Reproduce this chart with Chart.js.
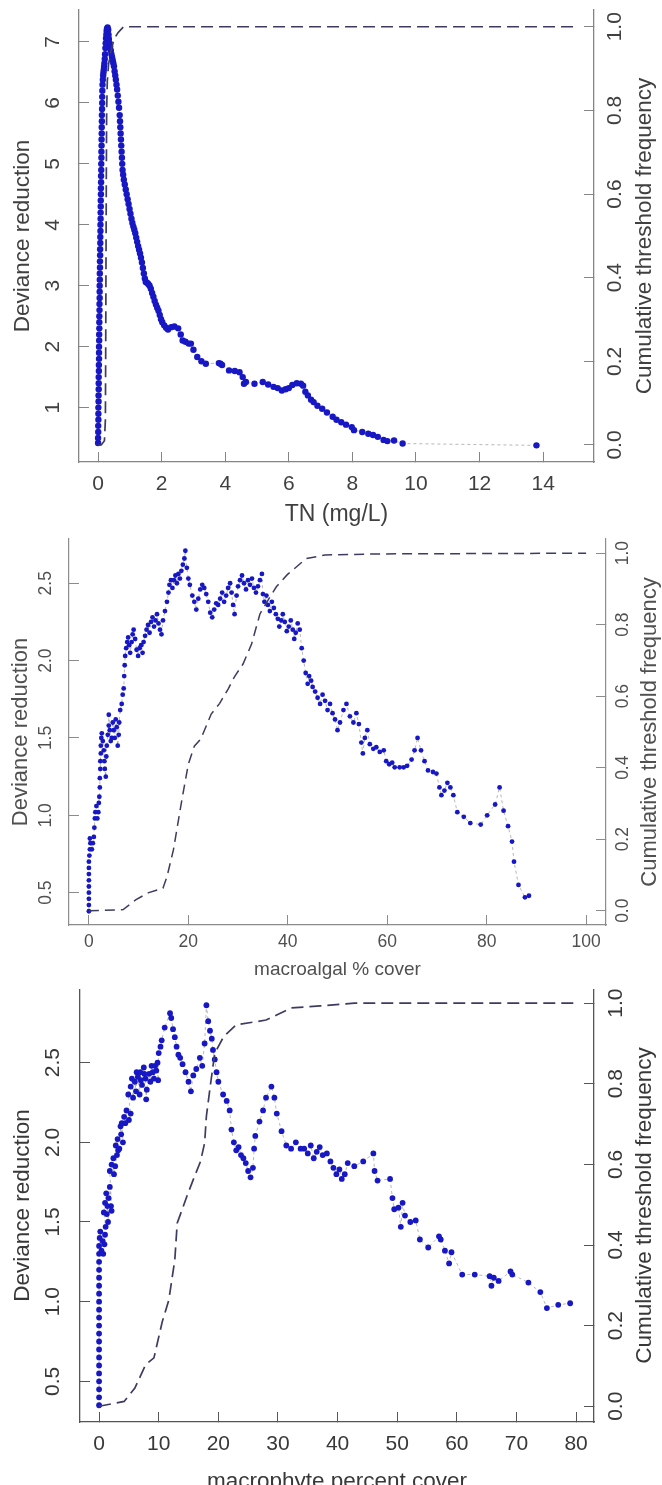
<!DOCTYPE html>
<html><head><meta charset="utf-8">
<script src="https://cdn.jsdelivr.net/npm/chart.js@4.4.1/dist/chart.umd.min.js"></script>
<style>
html,body{margin:0;padding:0;background:#fff;}
body{width:662px;height:1485px;position:relative;overflow:hidden;}
canvas{position:absolute;left:0;}
</style></head><body>
<canvas id="c1" width="662" height="530" style="top:0px"></canvas>
<canvas id="c2" width="662" height="455" style="top:530px"></canvas>
<canvas id="c3" width="662" height="496" style="top:989px"></canvas>
<script>
// ---------- Panel 1: TN (mg/L) ----------
const tnX = [0,0,0.005,0.005,0.01,0.01,0.01,0.015,0.015,0.02,0.02,0.02,0.025,0.025,0.03,0.03,0.03,0.035,0.035,0.04,0.04,0.04,0.045,0.045,0.05,0.05,0.05,0.055,0.055,0.06,0.06,0.065,0.065,0.07,0.07,0.075,0.075,0.08,0.08,0.085,0.085,0.09,0.09,0.095,0.095,0.1,0.1,0.105,0.105,0.11,0.11,0.115,0.115,0.12,0.12,0.125,0.13,0.13,0.135,0.14,0.15,0.16,0.17,0.18,0.19,0.2,0.21,0.22,0.23,0.24,0.25,0.26,0.27,0.28,0.3,0.32,0.33,0.34,0.36,0.38,0.4,0.42,0.44,0.46,0.48,0.5,0.52,0.54,0.56,0.58,0.6,0.62,0.64,0.66,0.68,0.69,0.7,0.71,0.72,0.73,0.74,0.75,0.76,0.77,0.79,0.81,0.84,0.87,0.9,0.93,0.96,0.99,1.02,1.05,1.08,1.11,1.14,1.17,1.2,1.23,1.26,1.29,1.32,1.35,1.38,1.41,1.44,1.47,1.5,1.54,1.58,1.62,1.66,1.7,1.74,1.78,1.82,1.86,1.9,1.94,1.98,2.02,2.08,2.14,2.2,2.3,2.4,2.52,2.6,2.66,2.75,2.85,2.92,3.0,3.12,3.25,3.39,3.8,3.85,3.9,4.12,4.3,4.45,4.55,4.59,4.65,4.92,5.18,5.35,5.52,5.65,5.78,5.9,6.0,6.11,6.25,6.38,6.45,6.52,6.6,6.7,6.78,6.9,7.05,7.2,7.38,7.5,7.65,7.8,7.98,8.05,8.31,8.5,8.65,8.8,8.98,9.1,9.31,9.58,13.79];
const tnDev = [0.42,0.5,0.6,0.7,0.8,0.9,1.0,1.1,1.2,1.3,1.4,1.5,1.6,1.7,1.8,1.9,2.0,2.1,2.2,2.3,2.4,2.5,2.6,2.7,2.8,2.9,3.0,3.1,3.2,3.3,3.4,3.5,3.6,3.7,3.8,3.9,4.0,4.1,4.2,4.3,4.4,4.5,4.6,4.7,4.8,4.9,5.0,5.1,5.2,5.3,5.4,5.5,5.6,5.7,5.8,5.9,6.0,6.1,6.2,6.3,6.38,6.45,6.5,6.55,6.6,6.65,6.72,6.8,6.9,6.98,7.06,7.12,7.18,7.22,7.24,7.2,7.12,7.05,6.98,6.92,6.86,6.8,6.75,6.7,6.65,6.6,6.52,6.45,6.38,6.3,6.22,6.12,6.02,5.92,5.8,5.7,5.6,5.5,5.4,5.3,5.2,5.1,5.0,4.9,4.82,4.74,4.66,4.58,4.5,4.42,4.34,4.26,4.18,4.1,4.03,3.97,3.92,3.86,3.79,3.72,3.65,3.59,3.53,3.46,3.38,3.29,3.2,3.12,3.06,3.05,3.03,3.0,2.95,2.88,2.82,2.75,2.69,2.64,2.59,2.52,2.45,2.4,2.35,2.31,2.28,2.32,2.33,2.3,2.2,2.1,2.08,2.05,2.05,1.95,1.83,1.76,1.72,1.73,1.72,1.7,1.61,1.6,1.58,1.5,1.39,1.42,1.39,1.42,1.38,1.34,1.32,1.28,1.3,1.32,1.37,1.4,1.39,1.36,1.26,1.2,1.13,1.09,1.03,0.98,0.92,0.85,0.8,0.76,0.72,0.68,0.63,0.6,0.57,0.55,0.52,0.47,0.45,0.46,0.41,0.38];
const tnCumX = [0,0.1,0.2,0.23,0.24,0.25,0.26,0.27,0.29,0.33,0.4,0.5,0.62,0.8,15];
const tnCum  = [0,0,0.01,0.06,0.22,0.45,0.65,0.8,0.87,0.91,0.94,0.97,0.985,1.0,1.0];
const tnXTicks = [0,2,4,6,8,10,12,14];
const tnYTicks = [1,2,3,4,5,6,7];

// ---------- Panel 2: macroalgal % cover ----------
const algX = [0,0,0,0,0,0,0,0,0,0.1,0.2,0.3,0.2,0.6,0.8,1.0,1.1,1.2,1.3,1.5,1.7,1.9,2.0,2.1,2.2,2.2,2.3,2.3,2.4,2.4,2.5,2.6,2.8,3.0,3.1,3.2,3.4,3.5,3.6,3.8,4.0,4.0,4.2,4.4,4.6,4.8,5.0,5.2,5.4,5.6,5.8,6.0,6.1,6.3,6.6,6.8,7.0,7.1,7.2,7.3,7.5,7.7,7.9,8.1,8.3,8.6,8.8,9.0,9.3,9.6,9.9,10.2,10.5,10.8,11.0,11.3,11.6,11.9,12.2,12.5,12.8,13.1,13.4,13.7,14.0,14.3,14.6,14.9,15.3,15.7,16.0,16.2,16.5,16.8,17.1,17.4,17.7,18.0,18.3,18.6,18.9,19.2,19.4,19.7,20.0,20.3,20.8,21.2,21.6,22.0,22.4,22.8,23.2,23.6,24.0,24.4,24.8,25.2,25.6,26.0,26.4,26.8,27.2,27.6,28.0,28.4,28.7,29.0,29.3,29.7,30.0,30.4,30.8,31.2,31.6,32.0,32.4,32.8,33.2,33.6,34.0,34.4,34.8,35.0,35.3,35.7,36.0,36.4,36.8,37.2,37.6,38.0,38.3,38.7,39.0,39.4,39.8,40.2,40.6,41.0,41.3,41.6,42.0,42.4,42.8,43.2,43.6,44.0,44.3,44.7,45.0,45.5,46.0,46.5,47.0,47.5,48.0,48.5,49.0,49.5,50.0,50.5,51.2,51.8,52.5,53.2,53.8,54.3,54.8,55.1,55.5,56.0,56.5,57.2,57.8,58.5,59.3,59.8,60.4,61.0,61.5,62.5,63.3,64.0,64.9,65.5,66.1,66.8,67.5,68.2,69.2,69.9,70.5,70.9,71.5,72.1,72.7,73.3,74.1,75.4,76.7,78.8,80.1,81.7,82.6,83.4,84.3,85.1,85.5,86.4,87.7,88.5];
const algDev = [0.38,0.42,0.46,0.5,0.54,0.58,0.62,0.66,0.7,0.74,0.78,0.82,0.85,0.78,0.82,0.86,0.92,0.98,1.02,1.06,0.98,1.02,1.08,1.12,1.18,1.24,1.3,1.35,1.4,1.45,1.5,1.53,1.48,1.42,1.35,1.3,1.25,1.38,1.45,1.52,1.58,1.65,1.55,1.48,1.5,1.6,1.55,1.5,1.62,1.57,1.45,1.52,1.6,1.68,1.72,1.78,1.82,1.9,1.97,2.03,2.08,2.12,2.15,2.1,2.05,2.12,2.17,2.2,2.14,2.07,2.03,2.08,2.1,2.05,2.12,2.16,2.2,2.23,2.18,2.25,2.28,2.22,2.26,2.3,2.24,2.2,2.17,2.26,2.32,2.38,2.44,2.49,2.52,2.47,2.52,2.55,2.5,2.56,2.53,2.58,2.62,2.66,2.71,2.6,2.53,2.49,2.42,2.38,2.33,2.4,2.46,2.49,2.47,2.43,2.38,2.31,2.28,2.33,2.37,2.36,2.4,2.44,2.38,2.42,2.47,2.5,2.44,2.36,2.3,2.42,2.48,2.52,2.55,2.5,2.46,2.52,2.49,2.53,2.47,2.44,2.48,2.52,2.56,2.43,2.38,2.42,2.36,2.32,2.38,2.34,2.3,2.27,2.22,2.26,2.3,2.25,2.19,2.22,2.26,2.2,2.14,2.18,2.24,2.2,2.08,2.0,1.92,1.85,1.9,1.87,1.83,1.8,1.76,1.72,1.78,1.74,1.68,1.72,1.66,1.62,1.55,1.6,1.68,1.72,1.64,1.6,1.66,1.59,1.47,1.4,1.5,1.55,1.46,1.43,1.44,1.41,1.42,1.35,1.33,1.34,1.31,1.31,1.31,1.32,1.36,1.42,1.5,1.42,1.35,1.29,1.28,1.27,1.18,1.13,1.16,1.21,1.18,1.13,1.02,0.99,0.95,0.94,1.0,1.07,1.18,1.03,0.93,0.83,0.7,0.55,0.47,0.48];
const algCumX = [0,6.9,9.4,11.9,14.9,15.7,17.0,18.7,20,21.2,22.5,24.6,26.3,28,29.3,31,32.7,34.4,36.1,37.7,39.9,41.6,43.7,47.5,58.5,100];
const algCum  = [0,0.003,0.03,0.05,0.063,0.095,0.17,0.31,0.41,0.46,0.48,0.55,0.58,0.62,0.655,0.69,0.745,0.83,0.87,0.906,0.94,0.96,0.985,0.995,0.998,1.0];
const algXTicks = [0,20,40,60,80,100];
const algYTicks = [0.5,1.0,1.5,2.0,2.5];

// ---------- Panel 3: macrophyte percent cover ----------
const macX = [0,0,0,0,0,0,0,0,0,0,0,0,0,0,0,0,0,0,0,0,0,0.1,0.2,0.4,0.6,0.7,0.9,1.0,1.1,0.8,1.0,1.2,1.3,1.4,1.5,1.6,1.8,2.0,2.1,1.8,2.1,2.4,2.5,2.7,3.0,2.8,3.1,3.2,3.4,3.6,3.7,4.0,3.8,4.2,4.4,4.6,5.0,5.3,4.9,5.3,5.5,5.7,6.0,6.2,6.3,6.5,6.8,6.9,7.0,7.2,7.5,7.6,7.8,7.9,8.0,8.4,8.6,8.8,9.0,9.2,9.4,9.6,9.8,9.9,10.0,10.3,10.5,11.0,11.9,12.1,12.4,12.7,13.0,13.3,13.6,14.0,14.5,15.0,15.4,15.8,16.3,16.9,17.3,17.7,18.0,18.3,18.6,18.9,19.1,19.4,19.7,20.0,20.8,21.4,21.9,22.2,22.6,23.0,23.4,23.8,24.2,24.6,25.0,25.4,25.8,26.0,26.2,26.9,27.5,28.0,28.9,29.4,29.8,30.6,31.4,32.2,33.0,33.8,34.4,35.0,35.5,36.0,36.5,37.0,37.5,38.2,38.8,39.3,39.8,40.3,40.7,41.2,41.7,42.8,44.3,46.0,46.2,46.7,48.8,49.2,49.5,50.2,50.6,50.9,51.3,52.2,53.1,53.8,55.2,57.0,57.3,58.0,58.7,59.1,60.9,63.0,65.5,65.8,66.2,67.0,69.0,69.3,72.0,74.0,75.1,77.0,79.0];
const macDev = [0.35,0.4,0.45,0.5,0.55,0.6,0.65,0.7,0.75,0.8,0.85,0.9,0.95,1.0,1.05,1.1,1.15,1.2,1.25,1.3,1.35,1.4,1.44,1.32,1.38,1.3,1.36,1.42,1.47,1.56,1.62,1.68,1.55,1.6,1.5,1.65,1.72,1.6,1.57,1.82,1.86,1.9,1.8,1.85,1.92,1.98,2.02,1.95,1.96,2.1,2.05,2.0,2.12,2.16,2.12,2.2,2.14,2.18,2.3,2.35,2.4,2.28,2.38,2.32,2.44,2.41,2.3,2.44,2.39,2.36,2.47,2.43,2.4,2.27,2.33,2.43,2.38,2.48,2.44,2.4,2.48,2.45,2.5,2.39,2.56,2.6,2.64,2.72,2.81,2.78,2.71,2.66,2.6,2.55,2.53,2.49,2.44,2.38,2.32,2.42,2.46,2.53,2.48,2.62,2.86,2.76,2.7,2.65,2.58,2.52,2.44,2.38,2.3,2.26,2.2,2.08,2.0,1.95,1.97,1.92,1.9,1.87,1.82,1.78,1.84,1.96,2.04,2.13,2.2,2.28,2.35,2.28,2.18,2.07,1.98,1.96,2.0,1.96,1.96,1.93,1.98,1.9,1.94,1.97,1.92,1.93,1.88,1.84,1.8,1.83,1.77,1.8,1.87,1.85,1.88,1.93,1.82,1.76,1.77,1.65,1.58,1.59,1.47,1.62,1.54,1.5,1.51,1.39,1.34,1.41,1.39,1.32,1.24,1.31,1.17,1.17,1.16,1.1,1.15,1.13,1.19,1.17,1.12,1.06,0.96,0.98,0.99];
const macCumX = [0,4.2,6,7.8,9.2,10.6,11.7,12.7,13.1,14.1,14.8,15.9,17,17.7,18,18.7,19.4,20.9,23,28,29.7,32.2,37.1,41.4,42.8,79.6];
const macCum  = [0,0.012,0.045,0.103,0.12,0.21,0.264,0.363,0.454,0.495,0.524,0.566,0.607,0.653,0.72,0.80,0.876,0.917,0.946,0.958,0.97,0.988,0.993,0.998,1.0,1.0];
const macXTicks = [0,10,20,30,40,50,60,70,80];
const macYTicks = [0.5,1.0,1.5,2.0,2.5];

const cumTicks = [0,0.2,0.4,0.6,0.8,1.0];

const FONT = '"Liberation Sans", Arial, sans-serif';
const PT = '#1717c4';

const rightTitle = {
  id: 'rightTitle',
  afterDraw(chart, args, o) {
    const s = chart.scales.y2, ctx = chart.ctx;
    ctx.save();
    ctx.translate(o.x, (s.top + s.bottom) / 2);
    ctx.rotate(-Math.PI / 2);
    ctx.font = o.size + 'px ' + FONT;
    ctx.fillStyle = o.color;
    ctx.textAlign = 'center';
    ctx.textBaseline = 'middle';
    ctx.fillText(o.text, 0, 0);
    ctx.restore();
  }
};

function zeroPad(s) { s.paddingTop = 0; s.paddingBottom = 0; s.paddingLeft = 0; s.paddingRight = 0; }
function pts(xs, ys) { return xs.map((x, i) => ({x: x, y: ys[i]})); }

function panel(id, o) {
  const font = {family: FONT, size: o.fs, lineHeight: 1.2};
  const yTitleFont = {family: FONT, size: o.ytFs, lineHeight: 1.2};
  const xTitleFont = {family: FONT, size: o.xtFs, lineHeight: 1.2};
  const grid = {display: true, drawOnChartArea: false, drawTicks: true, tickLength: -10, color: o.axis, lineWidth: 1};
  const border = {display: true, color: o.axis, width: o.bw};
  new Chart(document.getElementById(id), {
    type: 'scatter',
    data: {datasets: [
      {data: pts(o.cumX, o.cum), yAxisID: 'y2', showLine: true, borderColor: o.cumColor, borderWidth: o.cumW,
       borderDash: o.dash, pointRadius: 0, fill: false, tension: 0},
      {data: pts(o.devX, o.dev), yAxisID: 'y', showLine: true, borderColor: 'rgba(90,90,90,0.55)', borderWidth: 0.8,
       borderDash: [3, 3], pointRadius: o.pr, pointBackgroundColor: PT, pointBorderColor: PT, pointBorderWidth: 0, fill: false, tension: 0}
    ]},
    options: {
      responsive: false, animation: false, devicePixelRatio: 1, events: [],
      layout: {padding: {top: o.T, left: 0, right: 0, bottom: 0}, autoPadding: false},
      plugins: {legend: {display: false}, tooltip: {enabled: false},
        rightTitle: {x: o.rtX, size: o.ytFs, color: o.text, text: 'Cumulative threshold frequency'}},
      scales: {
        x: {type: 'linear', position: 'bottom', min: o.xMin, max: o.xMax,
          afterBuildTicks: s => { s.ticks = o.xTicks.map(v => ({value: v})); },
          afterFit: s => { s.height = o.xH; zeroPad(s); },
          grid: grid, border: border,
          ticks: {font: font, color: o.text, padding: o.xPad, minRotation: 0, maxRotation: 0, autoSkip: false,
            callback: v => String(v)},
          title: {display: true, text: o.xTitle, font: xTitleFont, color: o.text, padding: {top: 0, bottom: o.xtPad}}},
        y: {type: 'linear', position: 'left', min: o.yMin, max: o.yMax,
          afterBuildTicks: s => { s.ticks = o.yTicks.map(v => ({value: v})); },
          afterFit: s => { s.width = o.lW; zeroPad(s); },
          grid: grid, border: border,
          ticks: {font: font, color: o.text, padding: o.lPad, minRotation: 90, maxRotation: 90, crossAlign: 'center', autoSkip: false,
            callback: v => o.yDec ? v.toFixed(1) : String(v)},
          title: {display: true, text: 'Deviance reduction', font: yTitleFont, color: o.text, padding: {top: o.ltPad, bottom: 0}}},
        y2: {type: 'linear', position: 'right', min: o.y2Min, max: o.y2Max,
          afterBuildTicks: s => { s.ticks = cumTicks.map(v => ({value: v})); },
          afterFit: s => { s.width = o.rW; zeroPad(s); },
          grid: grid, border: border,
          ticks: {font: font, color: o.text, padding: o.rPad, minRotation: 90, maxRotation: 90, crossAlign: 'center', autoSkip: false,
            callback: v => v.toFixed(1)},
          title: {display: false}}
      }
    },
    plugins: [rightTitle]
  });
}

panel('c1', {fs: 21, ytFs: 22.5, xtFs: 23, text: '#404040', axis: '#858585', bw: 1.3, cumColor: '#3c3c62', cumW: 1.7, dash: [12, 6], pr: 3.2,
  devX: tnX, dev: tnDev, cumX: tnCumX, cum: tnCum, xTicks: tnXTicks, yTicks: tnYTicks, yDec: false,
  xMin: -0.6, xMax: 15.6, yMin: 0.107, yMax: 7.525, y2Min: -0.0407, y2Max: 1.04,
  T: 10, lW: 79, rW: 68, xH: 68, xPad: 20, lPad: 30, rPad: 17, ltPad: 9.5, xtPad: 1.2, rtX: 645, xTitle: 'TN (mg/L)'});

panel('c2', {fs: 17.5, ytFs: 22, xtFs: 19, text: '#505050', axis: '#8c8c8c', bw: 1.2, cumColor: '#3c3c62', cumW: 1.5, dash: [10, 6], pr: 2.4,
  devX: algX, dev: algDev, cumX: algCumX, cum: algCum, xTicks: algXTicks, yTicks: algYTicks, yDec: true,
  xMin: -4, xMax: 104, yMin: 0.291, yMax: 2.786, y2Min: -0.04, y2Max: 1.0397,
  T: 9, lW: 69, rW: 56, xH: 60, xPad: 17, lPad: 21, rPad: 15, ltPad: 7.8, xtPad: 3.6, rtX: 650, xTitle: 'macroalgal % cover'});

panel('c3', {fs: 21, ytFs: 22.5, xtFs: 22.5, text: '#383838', axis: '#555555', bw: 1.3, cumColor: '#3c3c62', cumW: 1.7, dash: [12, 6], pr: 2.9,
  devX: macX, dev: macDev, cumX: macCumX, cum: macCum, xTicks: macXTicks, yTicks: macYTicks, yDec: true,
  xMin: -3.2, xMax: 83, yMin: 0.245, yMax: 2.962, y2Min: -0.039, y2Max: 1.035,
  T: 0, lW: 80, rW: 68, xH: 63, xPad: 20, lPad: 22, rPad: 18, ltPad: 9.5, xtPad: -10.5, rtX: 645, xTitle: 'macrophyte percent cover'});
</script></body></html>
